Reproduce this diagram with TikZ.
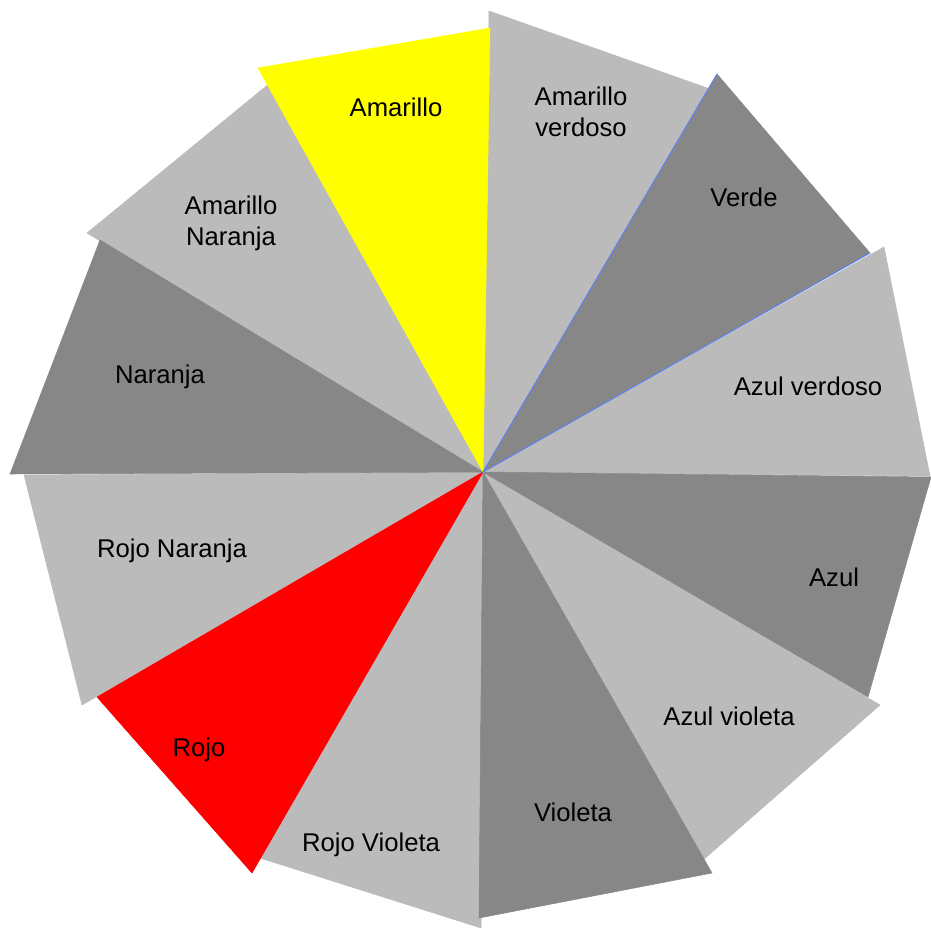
\documentclass[tikz,border=0pt]{standalone}
\usepackage{fontspec}
\setmainfont{Liberation Sans}
\definecolor{wheellight}{RGB}{187,187,187}
\definecolor{wheeldark}{RGB}{135,135,135}
\definecolor{wheelyellow}{RGB}{255,255,0}
\definecolor{wheelred}{RGB}{255,0,0}
\definecolor{wheeledge}{RGB}{90,130,255}
\tikzset{
  wlight/.style={fill=wheellight, draw=wheellight, line width=0.3pt},
  wdark/.style={fill=wheeldark, draw=wheeldark, line width=0.3pt},
  wyellow/.style={fill=wheelyellow, draw=wheelyellow, line width=0.3pt},
  wred/.style={fill=wheelred, draw=wheelred, line width=0.3pt},
  wedgeline/.style={draw=wheeledge, line width=0.5pt},
  wlab/.style={align=center, inner sep=0pt, font=\fontsize{14.6}{17.5}\selectfont}
}

\begin{document}
\begin{tikzpicture}[x=0.2mm,y=-0.2mm]
        \useasboundingbox (0,0) rectangle (931,929);
        \coordinate (c) at (483,472);

        % light wedges first, then the dark and coloured ones on top
        \foreach \ax/\ay/\bx/\by in {489/11/713/90, 884/247/930/476, 880/705/703/860,
                                     481/928/260/858, 82/705/24/475, 87/233/270/83} {
            \filldraw[wlight] (c) -- (\ax,\ay) -- (\bx,\by) -- cycle;
        }
        \foreach \ax/\ay/\bx/\by in {717/74/870/253, 931/477/868/697, 712/873/479/918, 10/474/100/240} {
            \filldraw[wdark] (c) -- (\ax,\ay) -- (\bx,\by) -- cycle;
        }
        \filldraw[wyellow] (c) -- (258,68) -- (490,28) -- cycle;
        \filldraw[wred] (c) -- (252,873) -- (97,697) -- cycle;

        \coordinate (verdetop) at (717,74);
        \coordinate (verderight) at (870,253);
        \draw[wedgeline] (verdetop) -- (c) -- (verderight);

        \node[wlab] (amarillo) at (396,107) {Amarillo};
        \node[wlab] (amaverdoso) at (581,112) {Amarillo\\verdoso};
        \node[wlab] (verde) at (744,197) {Verde};
        \node[wlab] (azulverdoso) at (808,386) {Azul verdoso};
        \node[wlab] (azul) at (834,577) {Azul};
        \node[wlab] (azulvioleta) at (729,716) {Azul violeta};
        \node[wlab] (violeta) at (573,812) {Violeta};
        \node[wlab] (rojovioleta) at (371,845) {Rojo Violeta};
        \node[wlab] (rojo) at (199,750) {Rojo};
        \node[wlab] (rojonaranja) at (172,551) {Rojo Naranja};
        \node[wlab] (naranja) at (160,377) {Naranja};
        \node[wlab] (amanaranja) at (231,223) {Amarillo\\Naranja};
    \end{tikzpicture}
\end{document}
